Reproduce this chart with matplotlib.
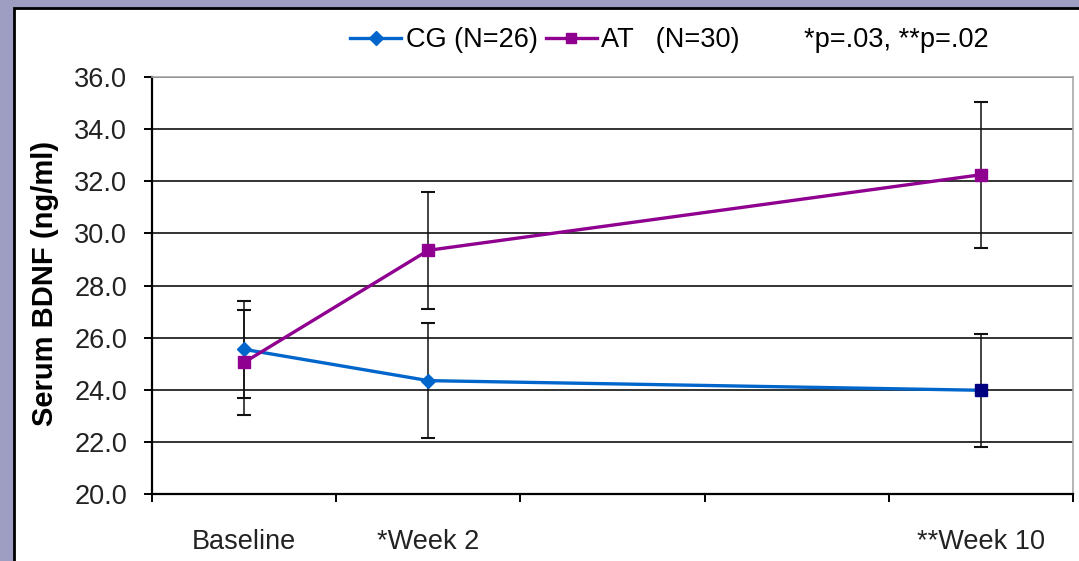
import numpy as np
import matplotlib
matplotlib.use("Agg")
import matplotlib.pyplot as plt
from matplotlib.lines import Line2D
from matplotlib.patches import Rectangle

plt.rcParams['font.family'] = ['Liberation Sans', 'DejaVu Sans']

# category slots on the x axis (two unlabeled in between)
categories = ['Baseline', '*Week 2', '', '', '**Week 10']
measured = ['Baseline', '*Week 2', '**Week 10']

cg_mean = [25.55, 24.35, 23.98]
cg_sd = [1.85, 2.2, 2.17]
at_mean = [25.05, 29.35, 32.25]
at_sd = [2.0, 2.25, 2.8]

y_ticks = [20.0, 22.0, 24.0, 26.0, 28.0, 30.0, 32.0, 34.0, 36.0]

blue = '#0066CC'
purple = '#900090'
navy = '#000080'
lavender = '#9E9EC2'
txt = 19.5

fig = plt.figure(figsize=(10.79, 5.61), dpi=100, facecolor=lavender)
# white chart area with black frame
fig.patches.append(Rectangle((14/1079, -0.05), 1.0, 1 - 8/561 + 0.05,
                             transform=fig.transFigure, facecolor='white',
                             edgecolor='black', lw=2.0, zorder=-5))

ax = fig.add_axes([152/1079, 67/561, 921/1079, 417/561])
ax.set_facecolor('white')

x = np.array([categories.index(m) for m in measured])

# error bars
ax.errorbar(x, cg_mean, yerr=cg_sd, fmt='none', ecolor='#111111', elinewidth=1.1,
            capsize=4.7, capthick=1.5, zorder=3)
ax.errorbar(x, at_mean, yerr=at_sd, fmt='none', ecolor='#111111', elinewidth=1.1,
            capsize=4.7, capthick=1.5, zorder=3)

# lines
ax.plot(x, cg_mean, color=blue, lw=2.4, zorder=4)
ax.plot(x, at_mean, color=purple, lw=2.4, zorder=4)

# markers (last CG point formatted differently, as in the original)
cg_marks = ['D', 'D', 's']
cg_cols = [blue, blue, navy]
for xi, yi, m, c in zip(x, cg_mean, cg_marks, cg_cols):
    ax.plot(xi, yi, marker=m, ms=8 if m == 's' else 7.5, color=c, mec=c, zorder=5)
ax.plot(x, at_mean, ls='none', marker='s', ms=8, color=purple, mec=purple, zorder=5)

ax.set_xlim(-0.5, len(categories) - 0.5)
ax.set_ylim(20, 36)
ax.set_yticks(y_ticks)
ax.set_yticklabels([f'{v:.1f}' for v in y_ticks], fontsize=txt, color='#222222')
ax.yaxis.grid(True, color='#333333', lw=1.4)
ax.set_axisbelow(True)

ax.set_xticks(np.arange(-0.5, len(categories)))
ax.set_xticklabels([])
ax.set_xticks(np.arange(len(categories)), minor=True)
ax.set_xticklabels(categories, minor=True, fontsize=txt, color='#222222')
ax.tick_params(axis='x', which='major', length=6, width=1.4, color='black')
ax.tick_params(axis='x', which='minor', length=0, pad=25)
ax.tick_params(axis='y', length=6, width=1.4, color='black', pad=12)

for s in ['left', 'bottom']:
    ax.spines[s].set_color('black')
    ax.spines[s].set_linewidth(1.6)
for s in ['top', 'right']:
    ax.spines[s].set_color('#A8A8A8')
    ax.spines[s].set_linewidth(1.2)

fig.text(45/1079, 1 - 283/561, 'Serum BDNF (ng/ml)', rotation=90, ha='center', va='center',
         fontsize=21, fontweight='bold')

handles = [Line2D([], [], color=blue, lw=2.4, marker='D', ms=7.5),
           Line2D([], [], color=purple, lw=2.4, marker='s', ms=7.5)]
fig.legend(handles, ['CG (N=26)', 'AT   (N=30)'], loc='center left',
           bbox_to_anchor=(350/1079, 1 - 40/561), ncol=2, frameon=False,
           fontsize=txt, handlelength=1.9, handletextpad=0.15, columnspacing=0.3,
           borderpad=0, borderaxespad=0)
fig.text(804/1079, 1 - 40/561, '*p=.03, **p=.02', ha='left', va='center', fontsize=txt)

fig.savefig('out.png', dpi=100, facecolor=lavender)
